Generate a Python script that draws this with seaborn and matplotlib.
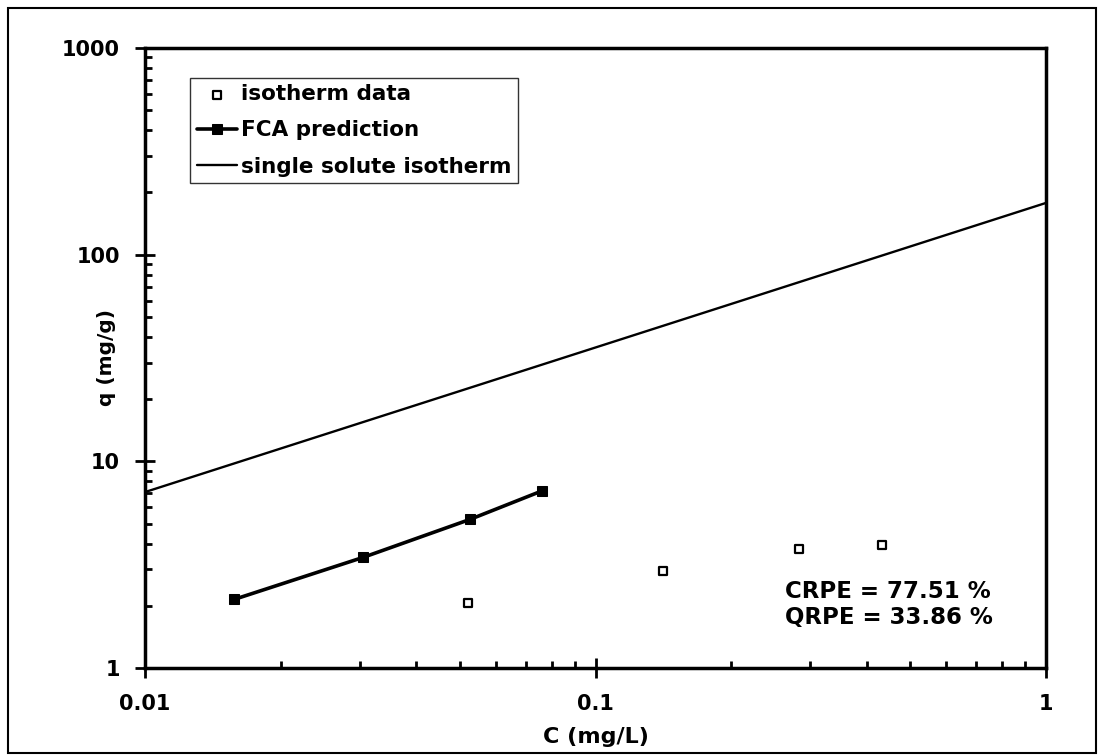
import matplotlib
matplotlib.use("Agg")
import matplotlib.pyplot as plt
import seaborn as sns
import pandas as pd
from matplotlib.patches import Rectangle
from matplotlib.ticker import LogLocator, NullFormatter, FixedFormatter, FixedLocator

# datos
iso_c = [0.0522, 0.141, 0.283, 0.432]
iso_q = [2.06, 2.96, 3.78, 3.94]
fca_c = [0.0158, 0.0305, 0.0527, 0.0759]
fca_q = [2.15, 3.43, 5.24, 7.18]
single_c = [0.01, 1.0]
single_q = [7.1, 178.0]
x_ticks = [0.01, 0.1, 1]
x_labels = ["0.01", "0.1", "1"]
y_ticks = [1, 10, 100, 1000]
y_labels = ["1", "10", "100", "1000"]
texto = ["CRPE = 77.51 %", "QRPE = 33.86 %"]

sns.set_style("ticks")
plt.rcParams["font.family"] = ["DejaVu Sans"]
plt.rcParams["font.weight"] = "bold"
for k in ["text.color", "axes.labelcolor", "xtick.color", "ytick.color"]:
    plt.rcParams[k] = "black"

iso = pd.DataFrame({"C": iso_c, "q": iso_q})
fca = pd.DataFrame({"C": fca_c, "q": fca_q})
single = pd.DataFrame({"C": single_c, "q": single_q})

fig = plt.figure(figsize=(11.01, 7.55), dpi=100)
ax = fig.add_axes([145 / 1101, 1 - 668 / 755, (1046 - 145) / 1101, (668 - 48) / 755])

sns.scatterplot(data=iso, x="C", y="q", ax=ax, marker="s", s=28, facecolor="white",
                edgecolor="black", linewidth=1.6, label="isotherm data", zorder=3)
sns.lineplot(data=fca, x="C", y="q", ax=ax, color="black", linewidth=2.6, marker="s",
             markersize=7, markeredgecolor="black", label="FCA prediction")
sns.lineplot(data=single, x="C", y="q", ax=ax, color="black", linewidth=1.7,
             label="single solute isotherm")

ax.set_xscale("log")
ax.set_yscale("log")
ax.set_xlim(0.01, 1)
ax.set_ylim(1, 1000)

ax.xaxis.set_major_locator(FixedLocator(x_ticks))
ax.xaxis.set_major_formatter(FixedFormatter(x_labels))
ax.yaxis.set_major_locator(FixedLocator(y_ticks))
ax.yaxis.set_major_formatter(FixedFormatter(y_labels))
ax.xaxis.set_minor_locator(LogLocator(base=10, subs=range(2, 10)))
ax.yaxis.set_minor_locator(LogLocator(base=10, subs=range(2, 10)))
ax.xaxis.set_minor_formatter(NullFormatter())
ax.yaxis.set_minor_formatter(NullFormatter())

ax.tick_params(which="major", direction="inout", length=14, width=2, labelsize=15)
ax.tick_params(axis="x", which="major", pad=12)
ax.tick_params(axis="y", which="major", pad=11)
ax.tick_params(which="minor", direction="in", length=5, width=2)
for lab in ax.get_xticklabels() + ax.get_yticklabels():
    lab.set_fontweight("bold")

for s in ax.spines.values():
    s.set_linewidth(2.5)
    s.set_color("black")

ax.set_xlabel("C (mg/L)", fontsize=16, fontweight="bold", labelpad=9)
ax.set_ylabel("q (mg/g)", fontsize=14.5, fontweight="bold")
ax.yaxis.set_label_coords(-0.032, 0.5)

leg = ax.legend(loc="upper left", bbox_to_anchor=(0.05, 0.952), fontsize=15.5, frameon=True,
                fancybox=False, edgecolor="black", handlelength=1.9, handletextpad=0.15,
                borderpad=0.3, labelspacing=0.75, borderaxespad=0)
leg.get_frame().set_linewidth(1.0)
for t in leg.get_texts():
    t.set_fontweight("bold")

ax.text(0.710, 0.124, texto[0], transform=ax.transAxes, fontsize=16.5,
        fontweight="bold", ha="left", va="center")
ax.text(0.710, 0.082, texto[1], transform=ax.transAxes, fontsize=16.5,
        fontweight="bold", ha="left", va="center")

fig.patches.append(Rectangle((8 / 1101, 1 - 753 / 755), (1096 - 8) / 1101, (753 - 8) / 755,
                             transform=fig.transFigure, fill=False, edgecolor="black",
                             linewidth=1.5))

fig.savefig("out.png", dpi=100)
